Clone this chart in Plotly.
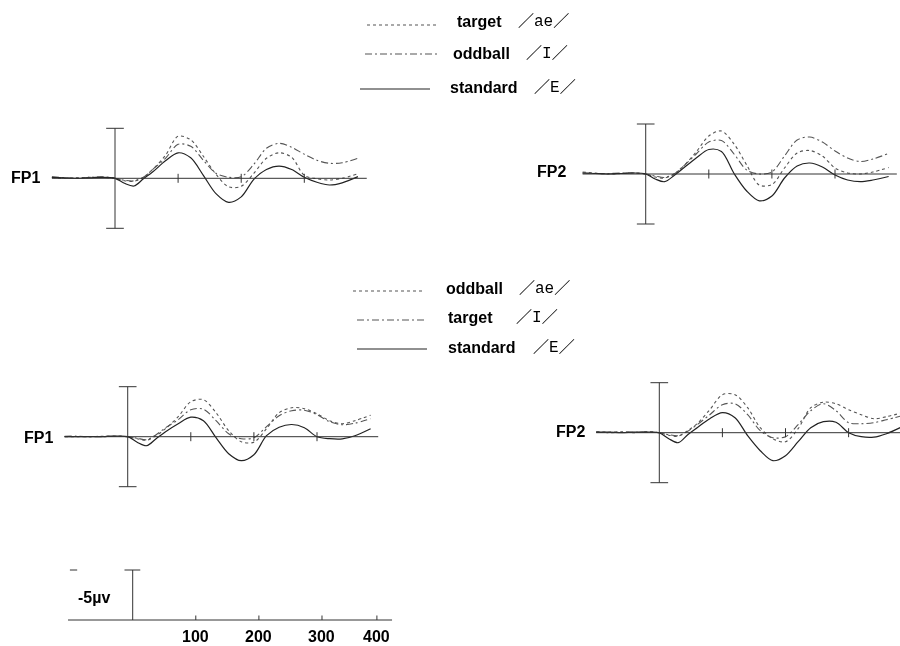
import plotly.graph_objects as go

W, H = 900, 646

# ---------------- data (µV, negative plotted upward) ----------------
TIME_MS = [-100, -80, -60, -40, -20, 0, 15, 30, 45, 60, 80, 100, 120, 140,
           160, 180, 200, 220, 240, 260, 280, 300, 320, 340, 360, 385]

# upper block: target /ae/ (dotted), oddball /I/ (dash-dot), standard /E/ (solid)
TOP_FP1_TARGET = [-0.1, 0.0, -0.05, -0.1, -0.1, 0, 0.25, 0.3, -0.1, -0.9, -2.3, -4.2, -3.85, -2.2,
                  -0.4, 0.85, 0.8, -0.5, -2.0, -2.55, -2.1, -0.3, 0.05, 0.17, 0.0, -0.45]
TOP_FP1_ODDBALL = [-0.15, -0.05, 0.0, -0.1, -0.15, 0, 0.2, 0.25, -0.1, -0.9, -2.0, -3.4, -3.2, -1.8,
                   -0.5, -0.1, -0.15, -1.4, -3.0, -3.5, -3.1, -2.4, -1.8, -1.5, -1.55, -2.0]
TOP_FP1_STANDARD = [-0.1, -0.05, 0, -0.05, -0.1, 0, 0.5, 0.77, 0.05, -0.65, -1.75, -2.55, -2.05, -0.3,
                    1.53, 2.4, 1.86, 0.1, -0.88, -1.22, -0.88, -0.1, 0.4, 0.67, 0.45, -0.17]

TOP_FP2_TARGET = [-0.2, -0.1, 0.0, -0.05, -0.1, 0, 0.3, 0.4, 0.0, -0.8, -2.2, -3.8, -4.3, -3.0,
                  -0.9, 1.1, 1.05, -0.6, -2.1, -2.35, -1.8, -0.6, -0.1, 0.0, -0.2, -0.65]
TOP_FP2_ODDBALL = [-0.1, -0.05, -0.05, -0.1, -0.1, 0, 0.2, 0.35, 0.0, -0.8, -2.0, -3.2, -3.35, -2.0,
                   -0.4, 0.0, -0.2, -1.8, -3.4, -3.7, -3.2, -2.3, -1.6, -1.25, -1.5, -2.05]
TOP_FP2_STANDARD = [-0.1, -0.05, 0.0, -0.05, -0.1, 0, 0.5, 0.77, 0.15, -0.6, -1.6, -2.45, -2.25, -0.05,
                    1.7, 2.68, 2.2, 0.4, -0.8, -1.1, -0.7, 0.1, 0.6, 0.77, 0.6, 0.25]

# lower block: oddball /ae/ (dotted), target /I/ (dash-dot), standard /E/ (solid)
BOT_FP1_ODDBALL = [0.0, 0.0, 0.0, -0.05, -0.05, 0, 0.2, 0.35, -0.1, -0.8, -2.0, -3.5, -3.7, -2.4,
                   -0.6, 0.5, 0.55, -0.8, -2.4, -2.9, -2.8, -2.3, -1.6, -1.3, -1.6, -2.15]
BOT_FP1_TARGET = [-0.05, -0.05, 0.0, 0.0, -0.05, 0, 0.15, 0.3, -0.2, -0.9, -1.7, -2.7, -2.75, -1.6,
                  -0.3, 0.2, 0.1, -1.0, -2.1, -2.6, -2.65, -2.2, -1.5, -1.2, -1.35, -1.8]
BOT_FP1_STANDARD = [0.0, 0.0, 0.0, 0.0, -0.05, 0, 0.55, 0.9, 0.2, -0.5, -1.3, -1.95, -1.6, 0.1,
                    1.7, 2.4, 1.8, -0.1, -0.95, -1.22, -0.9, 0.0, 0.2, 0.22, -0.1, -0.8]

BOT_FP2_ODDBALL = [-0.1, -0.05, -0.1, 0.0, -0.1, 0, 0.25, 0.35, -0.2, -0.9, -2.3, -3.8, -3.8, -2.5,
                   -0.5, 0.6, 0.9, -0.4, -2.5, -3.05, -2.9, -2.3, -1.8, -1.4, -1.6, -2.0]
BOT_FP2_TARGET = [-0.05, 0.0, -0.05, -0.05, -0.05, 0, 0.2, 0.3, -0.15, -0.8, -1.8, -2.8, -2.9, -1.8,
                  -0.2, 0.5, 0.4, -0.8, -2.2, -2.9, -2.2, -1.0, -0.9, -1.0, -1.3, -1.7]
BOT_FP2_STANDARD = [-0.05, -0.05, 0.0, -0.05, -0.05, 0, 0.6, 1.0, 0.2, -0.5, -1.4, -2.0, -1.5, 0.3,
                    1.8, 2.8, 2.3, 0.9, -0.5, -1.1, -1.05, 0.0, 0.4, 0.45, 0.1, -0.6]

AXIS_TICKS_MS = [100, 200, 300]
BAR_UV = 5
SCALE_TICKS_MS = [100, 200, 300, 387]
SCALE_TICK_LABELS = ["100", "200", "300", "400"]
SCALE_LABEL = "-5µv"

LEGEND_TOP = [("target", "ae"), ("oddball", "I"), ("standard", "E")]
LEGEND_BOT = [("oddball", "ae"), ("target", "I"), ("standard", "E")]

# ---------------- geometry ----------------
S = 0.631   # px per ms
V = 10.0    # px per µV

PANELS = [
    dict(label="FP1", zero=115.0, base=178.3, end=399, lab=(25, 177.5),
         series=[TOP_FP1_TARGET, TOP_FP1_ODDBALL, TOP_FP1_STANDARD]),
    dict(label="FP2", zero=645.7, base=174.0, end=398, lab=(551, 172),
         series=[TOP_FP2_TARGET, TOP_FP2_ODDBALL, TOP_FP2_STANDARD]),
    dict(label="FP1", zero=127.7, base=436.7, end=397, lab=(38, 437),
         series=[BOT_FP1_ODDBALL, BOT_FP1_TARGET, BOT_FP1_STANDARD]),
    dict(label="FP2", zero=659.3, base=432.7, end=420, lab=(570, 432),
         series=[BOT_FP2_ODDBALL, BOT_FP2_TARGET, BOT_FP2_STANDARD]),
]
STYLES = [
    dict(color="#555555", width=1.1, dash="3px,3px"),
    dict(color="#555555", width=1.1, dash="7px,3px,2px,3px"),
    dict(color="#222222", width=1.2, dash="solid"),
]
AXC = "#333333"

fig = go.Figure()
shapes = []
annotations = []
layout_axes = {}


def setup_axes(i, zero, base, top_extra=70, bot_extra=70):
    left_px = max(0.0, zero - 115 * S)
    right_px = min(W, zero + 430 * S)
    top_px = max(0.0, base - top_extra)
    bot_px = min(H, base + bot_extra)
    xr = [(left_px - zero) / S, (right_px - zero) / S]
    yr = [(bot_px - base) / V, (top_px - base) / V]
    sfx = "" if i == 1 else str(i)
    common = dict(visible=False, showgrid=False, zeroline=False, fixedrange=True)
    layout_axes["xaxis" + sfx] = dict(domain=[left_px / W, right_px / W], range=xr,
                                      anchor="y" + sfx, **common)
    layout_axes["yaxis" + sfx] = dict(domain=[1 - bot_px / H, 1 - top_px / H], range=yr,
                                      anchor="x" + sfx, **common)
    return "x" + sfx, "y" + sfx


def line(xref, yref, x0, y0, x1, y1, color=AXC, width=1, dash="solid"):
    shapes.append(dict(type="line", xref=xref, yref=yref, x0=x0, y0=y0, x1=x1, y1=y1,
                       line=dict(color=color, width=width, dash=dash), layer="above"))


def text(x_px, y_px, s, anchor="center", size=16, family="Liberation Sans, Arial, sans-serif",
         bold=True):
    annotations.append(dict(xref="paper", yref="paper", x=x_px / W, y=1 - y_px / H,
                            text=f"<b>{s}</b>" if bold else s, showarrow=False,
                            xanchor=anchor, yanchor="middle",
                            font=dict(size=size, family=family, color="#000000")))


for i, p in enumerate(PANELS, start=1):
    xr, yr = setup_axes(i, p["zero"], p["base"])
    # baseline, tick marks, calibration bar
    line(xr, yr, -100, 0, p["end"], 0)
    for t in AXIS_TICKS_MS:
        line(xr, yr, t, -0.45, t, 0.45)
    line(xr, yr, 0, -BAR_UV, 0, BAR_UV)
    line(xr, yr, -14, -BAR_UV, 14, -BAR_UV)
    line(xr, yr, -14, BAR_UV, 14, BAR_UV)
    for vals, st in zip(p["series"], STYLES):
        fig.add_trace(go.Scatter(x=TIME_MS, y=vals, mode="lines", xaxis=xr, yaxis=yr,
                                 line=dict(color=st["color"], width=st["width"], dash=st["dash"],
                                           shape="spline", smoothing=0.9),
                                 hoverinfo="skip", showlegend=False))
    text(p["lab"][0], p["lab"][1], p["label"])

# scale bar panel
xs, ys = setup_axes(5, 132.7, 620.0, top_extra=70, bot_extra=40)
line(xs, ys, -102.5, 0, 411, 0)
line(xs, ys, 0, 0, 0, -BAR_UV)
line(xs, ys, -13, -BAR_UV, 12, -BAR_UV)
line(xs, ys, -99.5, -BAR_UV, -88, -BAR_UV)
for t in SCALE_TICKS_MS:
    line(xs, ys, t, 0, t, -0.45)
for t, lab in zip(SCALE_TICKS_MS, SCALE_TICK_LABELS):
    annotations.append(dict(xref=xs, yref=ys, x=t, y=1.6, text=f"<b>{lab}</b>", showarrow=False,
                            xanchor="center", yanchor="middle",
                            font=dict(size=16, family="Liberation Sans, Arial, sans-serif",
                                      color="#000000")))
text(76, 597, SCALE_LABEL, anchor="left")

TOP_LINES = [(367, 438, 25), (365, 437, 54), (360, 430, 89)]
TOP_TEXT = [(455, 22, 516), (451, 53, 524), (448, 87, 532)]
BOT_LINES = [(353, 423, 291), (357, 427, 320), (357, 427, 349)]
BOT_TEXT = [(444, 288, 517), (446, 317, 514), (446, 347, 531)]

SLASH = "<b>／</b>"
for items, lrows, trows in ((LEGEND_TOP, TOP_LINES, TOP_TEXT), (LEGEND_BOT, BOT_LINES, BOT_TEXT)):
    for (name, core), (lx0, lx1, ly), (tx, ty, ix), st in zip(items, lrows, trows, STYLES):
        shapes.append(dict(type="line", xref="paper", yref="paper",
                           x0=lx0 / W, x1=lx1 / W, y0=1 - ly / H, y1=1 - ly / H,
                           line=dict(color=st["color"], width=st["width"], dash=st["dash"])))
        text(tx, ty, name, anchor="left")
        text(ix, ty, SLASH + core + SLASH, anchor="left",
             family="Liberation Mono, Noto Sans CJK SC, monospace", bold=False)

fig.update_layout(width=W, height=H, margin=dict(l=0, r=0, t=0, b=0),
                  paper_bgcolor="white", plot_bgcolor="white", showlegend=False,
                  shapes=shapes, annotations=annotations, **layout_axes)

fig.write_html(
    "out.html",
    config={"displayModeBar": False, "displaylogo": False, "staticPlot": True},
    post_script=("document.body.style.margin='0';document.body.style.overflow='hidden';"
                 "document.querySelectorAll('.main-svg').forEach(function(s){"
                 "s.style.willChange='transform';});"),
)
